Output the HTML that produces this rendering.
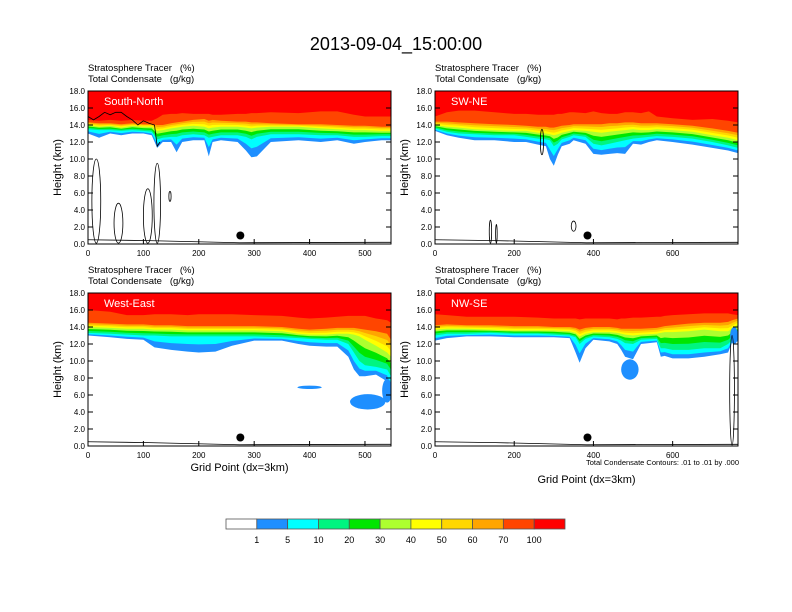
<!DOCTYPE html>
<html><head><meta charset="utf-8"><style>
html,body{margin:0;padding:0;background:#fff;}
svg{display:block;font-family:"Liberation Sans",sans-serif;}
text{white-space:pre;}
</style></head><body>
<svg id="fig" width="792" height="612" viewBox="0 0 792 612">
<text x="396" y="50" text-anchor="middle" font-size="18">2013-09-04_15:00:00</text>
<g id="panels"></g>
<g id="cbar"></g>
<text x="739" y="465" text-anchor="end" font-size="7.5">Total Condensate Contours: .01 to .01 by .000</text>
</svg>
<script>
// ---- data ----
const levels = [1,5,10,20,30,40,50,60,70,100];
const bandColors = ["#ffffff","#1e8fff","#00ffff","#00f580","#00e600","#adff2f","#ffff00","#ffd700","#ffa500","#ff4500","#ff0000"];

const snX = [0,20,40,60,80,100,115,125,135,150,160,170,190,210,218,225,240,270,285,295,305,330,380,420,450,480,500,530,547];
const snH1 = [13.0,12.5,13.0,12.8,13.0,13.0,12.8,11.3,12.0,12.0,10.8,12.0,12.2,12.2,10.3,12.0,12.2,12.0,11.0,10.2,10.3,12.0,12.2,12.0,12.2,11.8,12.0,12.2,12.2];
const snH10 = [13.5,13.4,13.4,13.3,13.4,13.3,13.2,12.3,12.5,12.6,12.6,12.8,12.9,12.8,12.5,12.6,12.8,12.8,12.6,12.3,12.6,12.9,12.9,12.8,12.8,12.6,12.6,12.7,12.7];
const snH40 = [14.0,13.8,13.9,13.7,13.9,13.8,13.8,13.3,13.4,13.6,13.7,13.8,13.9,13.8,13.6,13.7,13.8,13.8,13.7,13.6,13.7,13.8,13.8,13.6,13.5,13.4,13.4,13.3,13.3];
const snH70 = [14.3,14.2,14.2,14.1,14.2,14.1,14.1,14.0,14.0,14.2,14.3,14.4,14.6,14.7,14.5,14.6,14.5,14.4,14.4,14.3,14.3,14.2,14.1,14.1,14.0,13.9,13.9,13.8,13.8];
const snH100 = [14.6,14.5,14.6,14.5,14.6,14.5,14.5,14.8,15.2,15.3,15.3,15.4,15.3,15.3,15.3,15.2,15.2,15.3,15.3,15.4,15.4,15.5,15.4,15.6,15.6,15.2,15.0,15.0,15.0];
const snContX = [0,10,20,30,40,50,60,70,80,90,100,110,120,125,130];
const snContY = [15.0,14.6,15.0,15.5,15.2,15.5,15.5,15.0,14.6,14.0,14.5,14.2,14.0,11.5,12.0];

const swX = [0,30,60,100,150,200,230,260,280,290,300,310,320,340,350,380,400,420,440,460,480,500,520,540,560,600,650,700,740,765];
const swH1 = [13.3,12.8,12.5,12.2,12.2,12.0,12.0,11.7,11.5,10.0,9.2,10.5,11.5,11.8,12.2,11.8,10.6,10.5,10.6,10.7,10.6,11.8,11.7,12.0,12.2,12.0,11.7,11.3,11.0,10.7];
const swH10 = [13.6,13.2,13.0,12.9,12.8,12.8,12.6,12.4,12.3,12.2,11.5,11.8,12.3,12.6,12.8,12.6,11.8,11.6,11.8,12.0,12.2,12.4,12.5,12.6,12.7,12.6,12.4,12.0,11.6,11.3];
const swH40 = [14.0,13.8,13.7,13.5,13.4,13.3,13.3,13.1,13.0,12.9,12.8,12.9,13.1,13.3,13.4,13.3,13.2,13.1,13.2,13.3,13.4,13.5,13.4,13.4,13.5,13.4,13.2,12.8,12.5,12.2];
const swH70 = [14.4,14.4,14.3,14.2,14.1,14.0,13.9,13.8,13.8,13.7,13.7,13.8,13.9,14.0,14.1,14.1,14.1,14.1,14.2,14.2,14.3,14.3,14.2,14.2,14.2,14.1,13.9,13.6,13.3,13.1];
const swH100 = [15.0,15.5,15.7,15.7,15.5,15.3,15.3,15.2,15.2,15.2,15.2,15.3,15.3,15.5,15.5,15.4,15.6,15.4,15.3,15.3,15.5,15.5,15.4,15.6,15.0,14.8,14.6,14.7,14.5,14.3];

const weX = [0,40,70,100,120,150,180,200,230,260,300,350,380,400,430,450,470,480,490,500,520,540,547];
const weH1 = [13.0,12.8,12.6,12.5,11.6,11.3,11.1,11.0,11.1,11.8,12.4,12.4,12.0,11.8,11.7,11.7,10.5,9.0,8.2,8.2,8.4,7.6,5.8];
const weH10 = [13.3,13.2,13.1,13.0,13.0,12.9,12.9,12.9,12.9,12.9,12.9,12.8,12.7,12.6,12.5,12.5,12.0,11.0,10.0,9.5,9.3,9.0,8.2];
const weH40 = [14.0,13.9,13.8,13.8,13.7,13.7,13.6,13.6,13.6,13.6,13.6,13.5,13.2,13.1,13.1,13.2,13.2,13.1,12.9,12.5,11.8,11.0,10.5];
const weH70 = [14.5,14.4,14.3,14.3,14.2,14.2,14.1,14.1,14.1,14.1,14.1,14.0,13.8,13.7,13.8,13.9,13.9,13.9,13.8,13.7,13.5,13.2,12.5];
const weH100 = [16.0,15.8,15.4,15.4,15.5,15.5,15.4,15.5,15.5,15.5,15.4,15.3,15.1,15.0,15.1,15.2,15.3,15.3,15.3,15.3,15.0,14.8,14.5];
const weBlobX = [505,400,540];
const weBlobY = [5.2,6.9,6.5];
const weBlobRX = [32,22,9];
const weBlobRY = [0.9,0.2,1.4];

const nwX = [0,30,80,140,200,260,300,340,355,365,380,400,440,460,470,480,500,520,560,570,580,600,640,680,720,740,750,765];
const nwH1 = [12.4,12.7,12.9,12.9,12.8,12.8,12.8,12.7,11.0,9.8,11.5,12.5,12.3,12.0,11.3,10.5,10.2,12.0,12.2,10.5,10.6,10.3,10.3,10.5,10.8,11.0,12.2,12.3];
const nwH10 = [13.0,13.2,13.2,13.3,13.2,13.2,13.1,13.0,12.8,12.0,12.6,12.9,12.8,12.6,12.4,12.1,12.0,12.5,12.6,11.5,11.5,11.3,11.3,11.5,11.5,12.0,12.5,12.7];
const nwH40 = [13.7,13.8,13.8,13.7,13.6,13.6,13.6,13.5,13.3,12.9,13.2,13.4,13.4,13.3,13.2,13.1,13.0,13.1,13.2,13.3,13.4,13.4,13.5,13.7,13.5,13.5,13.8,14.3];
const nwH70 = [14.2,14.3,14.2,14.2,14.1,14.1,14.0,14.0,13.9,13.7,13.9,14.0,14.0,13.9,13.8,13.8,13.8,13.8,13.9,14.0,14.1,14.2,14.4,14.5,14.5,14.6,14.8,15.0];
const nwH100 = [15.5,15.4,15.2,15.2,15.2,15.1,15.0,15.0,15.0,14.9,15.0,15.0,15.0,14.9,15.0,15.0,15.1,15.1,15.2,15.2,15.3,15.4,15.5,15.6,15.6,15.6,15.5,15.4];
const nwBlobX = [492,755];
const nwBlobY = [9.0,13.0];
const nwBlobRX = [22,10];
const nwBlobRY = [1.2,1.0];

const yTicks = [0,2,4,6,8,10,12,14,16,18];
const xTicksShort = [0,100,200,300,400,500];
const xTicksLong = [0,200,400,600];
const dotX = [275,385,275,385];
// vertical condensate contour loops: x, bottom, top, half-width (grid pts)
const snLoopX = [15,55,108,125,148];
const snLoopB = [0.1,0.1,0.1,0.1,5.0];
const snLoopT = [10.0,4.8,6.5,9.5,6.2];
const snLoopW = [8,8,8,6,2];
const swLoopX = [140,155,270,350];
const swLoopB = [0.1,0.1,10.5,1.5];
const swLoopT = [2.8,2.3,13.5,2.7];
const swLoopW = [3,2,4,6];
const nwLoopX = [750];
const nwLoopB = [0.1];
const nwLoopT = [13.0];
const nwLoopW = [6];

// ---- drawing ----
const NS = "http://www.w3.org/2000/svg";
function mk(tag, attrs, parent){const e=document.createElementNS(NS,tag);for(const k in attrs)e.setAttribute(k,attrs[k]);parent.appendChild(e);return e;}
const root = document.getElementById('panels');

function panel(idx, px, py, label, xmax, xs, h1, h10, h40, h70, h100, xt, bx, by, brx, bry, showX, lx, lb_, lt, lw){
  const W=303, H=153;
  const g = mk('g',{},root);
  
  
  const sx = v => px + v / xmax * W;
  const sy = v => py + H - v / 18 * H;
  const cp = mk('clipPath',{id:'cp'+idx},g);
  mk('rect',{x:px,y:py,width:W,height:H},cp);
  const pl = mk('g',{'clip-path':'url(#cp'+idx+')'},g);
  mk('rect',{x:px,y:py,width:W,height:H,fill:bandColors[10]},pl);
  const lv = {};
  lv[1]=h1; lv[10]=h10; lv[40]=h40; lv[70]=h70; lv[100]=h100;
  lv[5]=h1.map((v,i)=>(v+h10[i])/2);
  lv[20]=h10.map((v,i)=>v+(h40[i]-v)/3);
  lv[30]=h10.map((v,i)=>v+2*(h40[i]-v)/3);
  lv[50]=h40.map((v,i)=>v+(h70[i]-v)/3);
  lv[60]=h40.map((v,i)=>v+2*(h70[i]-v)/3);
  for(let k=levels.length-1;k>=0;k--){
    const arr = lv[levels[k]];
    let d = 'M'+sx(xs[0])+','+sy(0);
    xs.forEach((x,i)=>{ d+=' L'+sx(x).toFixed(1)+','+sy(arr[i]).toFixed(1); });
    d+=' L'+sx(xs[xs.length-1])+','+sy(0)+' Z';
    const p = mk('path',{d:d,fill:bandColors[k]},pl);
    
    
  }
  for(let i=0;i<bx.length;i++){
    const e = mk('ellipse',{cx:sx(bx[i]),cy:sy(by[i]),rx:brx[i]/xmax*W,ry:bry[i]/18*H,fill:bandColors[1]},pl);
    
    
  }
  for(let i=0;i<lx.length;i++){
    const e = mk('ellipse',{cx:sx(lx[i]),cy:(sy(lb_[i])+sy(lt[i]))/2,rx:lw[i]/xmax*W,ry:(sy(lb_[i])-sy(lt[i]))/2,fill:'none',stroke:'#000','stroke-width':0.8},pl);
    
    
  }
  if(idx===0){
    let d='';
    snContX.forEach((x,i)=>{ d+=(i?' L':'M')+sx(x).toFixed(1)+','+sy(snContY[i]).toFixed(1); });
    const c = mk('path',{d:d,fill:'none',stroke:'#000','stroke-width':0.8},pl);
    
    
  }
  mk('path',{d:'M'+px+','+sy(0.5)+' L'+sx(xmax*0.2)+','+sy(0.4)+' L'+sx(xmax*0.5)+','+sy(0.15)+' L'+(px+W)+','+sy(0.2),fill:'none',stroke:'#000','stroke-width':0.8},pl);
  const dot = mk('circle',{cx:sx(dotX[idx]),cy:sy(1.0),r:4,fill:'#000'},pl);
  
  
  mk('rect',{x:px,y:py,width:W,height:H,fill:'none',stroke:'#000','stroke-width':1},g);
  yTicks.forEach(t=>{
    const y=sy(t);
    mk('line',{x1:px,x2:px+5,y1:y,y2:y,stroke:'#000'},g);
    mk('line',{x1:px+W,x2:px+W-5,y1:y,y2:y,stroke:'#000'},g);
    const tx = mk('text',{x:px-3,y:y+3,'text-anchor':'end','font-size':8},g);
    tx.textContent = t.toFixed(1);
    
    
  });
  xt.forEach(t=>{
    const x=sx(t);
    mk('line',{x1:x,x2:x,y1:py+H,y2:py+H-5,stroke:'#000'},g);
    const tx = mk('text',{x:x,y:py+H+12,'text-anchor':'middle','font-size':8},g);
    tx.textContent = t;
    
    
  });
  const s1 = mk('text',{x:px,y:py-20,'font-size':9.5},g); s1.textContent='Stratosphere Tracer   (%)';
  
  
  const s2 = mk('text',{x:px,y:py-9,'font-size':9.5},g); s2.textContent='Total Condensate   (g/kg)';
  
  
  const lb = mk('text',{x:px+16,y:py+14,'font-size':11,fill:'#fff'},pl); lb.textContent=label;
  
  
  const yt = mk('text',{x:0,y:0,'font-size':11,'text-anchor':'middle',transform:'translate('+(px-27)+','+(py+H/2)+') rotate(-90)'},g);
  yt.textContent='Height (km)';
  
  
  if(showX){
    const xtl = mk('text',{x:px+W/2,y:py+H+(idx==3?37:25),'font-size':11,'text-anchor':'middle'},g);
    xtl.textContent='Grid Point (dx=3km)';
    
    
  }
}
panel(0,88,91,'South-North',547,snX,snH1,snH10,snH40,snH70,snH100,xTicksShort,[],[],[],[],false,snLoopX,snLoopB,snLoopT,snLoopW);
panel(1,435,91,'SW-NE',765,swX,swH1,swH10,swH40,swH70,swH100,xTicksLong,[],[],[],[],false,swLoopX,swLoopB,swLoopT,swLoopW);
panel(2,88,293,'West-East',547,weX,weH1,weH10,weH40,weH70,weH100,xTicksShort,weBlobX,weBlobY,weBlobRX,weBlobRY,true,[],[],[],[]);
panel(3,435,293,'NW-SE',765,nwX,nwH1,nwH10,nwH40,nwH70,nwH100,xTicksLong,nwBlobX,nwBlobY,nwBlobRX,nwBlobRY,true,nwLoopX,nwLoopB,nwLoopT,nwLoopW);

const cb = document.getElementById('cbar');
const cbX0=226, cbW=339, cbY=519, cbH=10, bw=cbW/bandColors.length;
bandColors.forEach((c,i)=>{
  const r = mk('rect',{x:cbX0+i*bw,y:cbY,width:bw,height:cbH,fill:c,stroke:'#555','stroke-width':0.8},cb);
  
  
});
levels.forEach((l,i)=>{
  const t = mk('text',{x:cbX0+(i+1)*bw,y:cbY+24,'text-anchor':'middle','font-size':9},cb);
  t.textContent=l;
  
  
});
</script>
</body></html>
